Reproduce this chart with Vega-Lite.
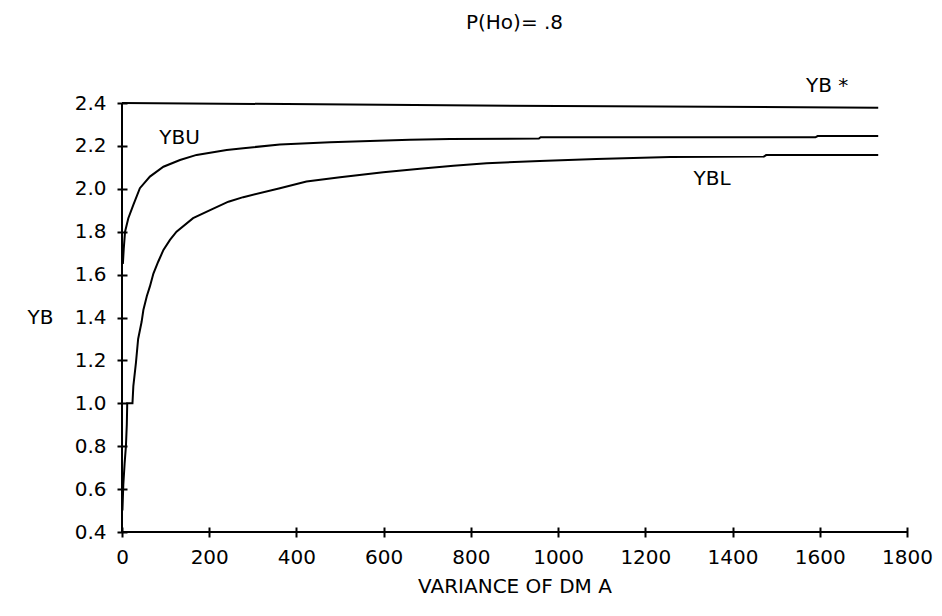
{
  "$schema": "https://vega.github.io/schema/vega-lite/v6.json",
  "width": 785,
  "height": 429,
  "autosize": "none",
  "padding": {"left": 122, "top": 103, "right": 35, "bottom": 84},
  "background": "white",
  "title": {"text": "P(Ho)= .8", "font": "DejaVu Sans", "fontSize": 20, "fontWeight": "normal", "color": "black", "offset": 43},
  "config": {
    "view": {"stroke": null},
    "axis": {
      "labelFont": "DejaVu Sans", "labelFontSize": 20, "labelColor": "black",
      "titleFont": "DejaVu Sans", "titleFontSize": 20, "titleFontWeight": "normal", "titleColor": "black",
      "grid": false, "domain": false, "tickColor": "black", "tickWidth": 2, "tickSize": 10, "offset": -5,
      "labelFlush": false
    }
  },
  "datasets": {
    "curves": [
      {"series": "YB*", "x": 0, "y": 2.4},
      {"series": "YB*", "x": 450, "y": 2.394},
      {"series": "YB*", "x": 1000, "y": 2.386},
      {"series": "YB*", "x": 1734, "y": 2.378},
      {"series": "YBU", "x": 2, "y": 1.65},
      {"series": "YBU", "x": 4, "y": 1.72},
      {"series": "YBU", "x": 7, "y": 1.8},
      {"series": "YBU", "x": 14.5, "y": 1.863},
      {"series": "YBU", "x": 26, "y": 1.925},
      {"series": "YBU", "x": 41, "y": 2.003},
      {"series": "YBU", "x": 64, "y": 2.057},
      {"series": "YBU", "x": 95, "y": 2.103},
      {"series": "YBU", "x": 133, "y": 2.134},
      {"series": "YBU", "x": 171, "y": 2.158},
      {"series": "YBU", "x": 240, "y": 2.181},
      {"series": "YBU", "x": 278, "y": 2.189},
      {"series": "YBU", "x": 362, "y": 2.207},
      {"series": "YBU", "x": 477, "y": 2.217},
      {"series": "YBU", "x": 660, "y": 2.229},
      {"series": "YBU", "x": 752, "y": 2.232},
      {"series": "YBU", "x": 956, "y": 2.234},
      {"series": "YBU", "x": 960, "y": 2.24},
      {"series": "YBU", "x": 1590, "y": 2.24},
      {"series": "YBU", "x": 1595, "y": 2.246},
      {"series": "YBU", "x": 1734, "y": 2.246},
      {"series": "YBL", "x": 1, "y": 0.5},
      {"series": "YBL", "x": 3, "y": 0.62},
      {"series": "YBL", "x": 6, "y": 0.72},
      {"series": "YBL", "x": 9, "y": 0.8},
      {"series": "YBL", "x": 11, "y": 0.9},
      {"series": "YBL", "x": 12, "y": 1.0},
      {"series": "YBL", "x": 24, "y": 1.0},
      {"series": "YBL", "x": 26, "y": 1.08},
      {"series": "YBL", "x": 32, "y": 1.19},
      {"series": "YBL", "x": 37, "y": 1.3},
      {"series": "YBL", "x": 45, "y": 1.38},
      {"series": "YBL", "x": 49, "y": 1.435},
      {"series": "YBL", "x": 57, "y": 1.5},
      {"series": "YBL", "x": 64, "y": 1.545},
      {"series": "YBL", "x": 72, "y": 1.605},
      {"series": "YBL", "x": 83, "y": 1.66},
      {"series": "YBL", "x": 95, "y": 1.715},
      {"series": "YBL", "x": 110, "y": 1.762},
      {"series": "YBL", "x": 125, "y": 1.8},
      {"series": "YBL", "x": 163, "y": 1.863},
      {"series": "YBL", "x": 202, "y": 1.901},
      {"series": "YBL", "x": 244, "y": 1.94},
      {"series": "YBL", "x": 278, "y": 1.961},
      {"series": "YBL", "x": 362, "y": 2.003},
      {"series": "YBL", "x": 423, "y": 2.034},
      {"series": "YBL", "x": 500, "y": 2.054},
      {"series": "YBL", "x": 599, "y": 2.077},
      {"series": "YBL", "x": 683, "y": 2.093},
      {"series": "YBL", "x": 760, "y": 2.108},
      {"series": "YBL", "x": 836, "y": 2.119},
      {"series": "YBL", "x": 958, "y": 2.13},
      {"series": "YBL", "x": 1088, "y": 2.139},
      {"series": "YBL", "x": 1257, "y": 2.148},
      {"series": "YBL", "x": 1472, "y": 2.15},
      {"series": "YBL", "x": 1477, "y": 2.157},
      {"series": "YBL", "x": 1734, "y": 2.157}
    ],
    "labels": [
      {"label": "YBU", "x": 132, "y": 2.235},
      {"label": "YBL", "x": 1353, "y": 2.048},
      {"label": "YB *", "x": 1617, "y": 2.477}
    ]
  },
  "layer": [
    {
      "data": {"name": "curves"},
      "mark": {"type": "line", "color": "black", "strokeWidth": 2, "interpolate": "linear"},
      "encoding": {
        "x": {"field": "x", "type": "quantitative", "scale": {"domain": [0, 1800], "nice": false, "zero": false},
              "axis": {"values": [0, 200, 400, 600, 800, 1000, 1200, 1400, 1600, 1800], "format": "d", "labelPadding": 10,
                       "title": "VARIANCE OF DM A", "titleY": 59, "titleBaseline": "middle"}},
        "y": {"field": "y", "type": "quantitative", "scale": {"domain": [0.4, 2.4], "nice": false, "zero": false},
              "axis": {"values": [0.4, 0.6, 0.8, 1.0, 1.2, 1.4, 1.6, 1.8, 2.0, 2.2, 2.4], "format": ".1f", "labelPadding": 11,
                       "title": "YB", "titleAngle": 0, "titleX": -87, "titleY": 214, "titleAlign": "center", "titleBaseline": "middle"}},
        "detail": {"field": "series", "type": "nominal"}
      }
    },
    {
      "data": {"values": [{}]},
      "mark": {"type": "rule", "color": "black", "strokeWidth": 2},
      "encoding": {"y": {"datum": 0.4, "type": "quantitative"}}
    },
    {
      "data": {"values": [{}]},
      "mark": {"type": "rule", "color": "black", "strokeWidth": 2},
      "encoding": {"x": {"datum": 0, "type": "quantitative"}}
    },
    {
      "data": {"name": "labels"},
      "mark": {"type": "text", "font": "DejaVu Sans", "fontSize": 20, "color": "black", "align": "center", "baseline": "middle"},
      "encoding": {
        "x": {"field": "x", "type": "quantitative"},
        "y": {"field": "y", "type": "quantitative"},
        "text": {"field": "label"}
      }
    }
  ]
}
